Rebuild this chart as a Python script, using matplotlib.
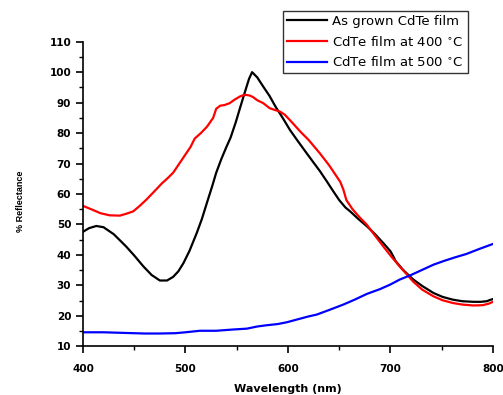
import matplotlib
matplotlib.use("Agg")
import matplotlib.pyplot as plt
from matplotlib.ticker import MultipleLocator

plt.rcParams['font.family'] = ['DejaVu Sans']
plt.rcParams['mathtext.fontset'] = 'dejavusans'

# As grown CdTe film
wl_grown = [400, 406, 413, 420, 430, 442, 450, 459, 467, 475, 482, 488, 493, 498, 504, 511,
            516, 521, 526, 530, 535, 540, 544, 549, 553, 558, 562, 565, 570, 576, 582, 588,
            595, 602, 610, 618, 625, 631, 638, 644, 650, 656, 661, 668, 677, 685, 693, 700,
            702, 705, 712, 722, 731, 742, 751, 761, 770, 781, 788, 794, 797, 800]
r_grown = [47.6, 48.8, 49.5, 49.1, 46.8, 42.8, 39.8, 36.2, 33.4, 31.6, 31.6, 32.8, 34.6, 37.3, 41.4, 47.2,
           51.8, 57.2, 62.5, 67.0, 71.5, 75.5, 78.5, 83.5, 88.0, 93.5, 97.8, 100.0, 98.3, 95.2, 92.2, 88.6,
           84.9, 81.0, 77.2, 73.5, 70.3, 67.6, 64.1, 61.0, 58.0, 55.6, 54.2, 52.0, 49.4, 46.8, 43.9, 41.2,
           40.0, 38.0, 35.2, 32.0, 29.8, 27.5, 26.2, 25.3, 24.8, 24.6, 24.6, 24.8, 25.2, 25.5]

# CdTe film annealed at 400 C
wl_400 = [400, 408, 417, 426, 436, 443, 449, 455, 462, 470, 477, 482, 488, 495, 500, 505,
          509, 515, 521, 527, 530, 534, 538, 543, 548, 553, 557, 560, 563, 566, 570, 576,
          582, 587, 592, 597, 604, 612, 620, 631, 640, 651, 654, 657, 663, 670, 677, 685,
          693, 701, 709, 716, 722, 731, 742, 751, 761, 770, 781, 790, 796, 800]
r_400 = [56.1, 55.0, 53.7, 53.0, 52.9, 53.6, 54.3, 56.0, 58.2, 61.0, 63.5, 65.0, 67.0, 70.5, 73.0, 75.5,
         78.2, 80.0, 82.1, 85.0, 88.0, 89.0, 89.2, 89.8, 91.0, 92.0, 92.5, 92.5, 92.3, 91.8, 90.8, 89.8,
         88.2, 87.6, 87.1, 86.0, 83.5, 80.5, 77.8, 73.4, 69.5, 64.0, 61.5, 58.0, 55.0, 52.3, 49.9, 46.3,
         42.8, 39.4, 36.2, 33.6, 31.3, 28.6, 26.4, 25.1, 24.2, 23.7, 23.4, 23.5, 24.0, 24.6]

# CdTe film annealed at 500 C
wl_500 = [400, 420, 440, 460, 475, 490, 500, 514, 530, 546, 560, 570, 579, 590, 599, 610,
          620, 628, 640, 654, 665, 677, 690, 700, 709, 720, 731, 742, 752, 763, 774, 787, 800]
r_500 = [14.6, 14.6, 14.4, 14.2, 14.2, 14.3, 14.6, 15.1, 15.1, 15.5, 15.8, 16.5, 16.9, 17.3, 17.9, 18.9,
         19.8, 20.4, 21.9, 23.7, 25.3, 27.2, 28.8, 30.3, 31.9, 33.4, 35.1, 36.8, 38.0, 39.2, 40.3, 42.0, 43.6]

fig = plt.figure(figsize=(5.03, 3.95), dpi=100)
ax = fig.add_axes([0.165, 0.1233, 0.815, 0.7711])

lw = 1.6
ax.plot(wl_grown, r_grown, color='black', lw=lw, label='As grown CdTe film')
ax.plot(wl_400, r_400, color='#ff0000', lw=lw, label='CdTe film at 400 $^{\\circ}$C')
ax.plot(wl_500, r_500, color='#0000ff', lw=lw, label='CdTe film at 500 $^{\\circ}$C')

ax.set_xlim(400, 800)
ax.set_ylim(10, 110)
ax.xaxis.set_major_locator(MultipleLocator(100))
ax.xaxis.set_minor_locator(MultipleLocator(50))
ax.yaxis.set_major_locator(MultipleLocator(10))
ax.yaxis.set_minor_locator(MultipleLocator(5))

for s in ['top', 'right']:
    ax.spines[s].set_visible(False)
for s in ['left', 'bottom']:
    ax.spines[s].set_linewidth(1.2)

ax.tick_params(which='major', direction='out', length=5, width=1.2, labelsize=7.5, pad=3.5)
ax.tick_params(which='minor', direction='out', length=3, width=1.0)
for lab in ax.get_xticklabels() + ax.get_yticklabels():
    lab.set_fontweight('bold')
ax.tick_params(axis='x', pad=8)

fig.text(288 / 503, 1 - 389 / 395, 'Wavelength (nm)', ha='center', va='center',
         fontsize=8, fontweight='bold')
fig.text(20.5 / 503, 1 - 201 / 395, '% Reflectance', ha='center', va='center',
         rotation=90, fontsize=6.5, fontweight='bold', family='Liberation Sans')

leg = fig.legend(loc='upper left', bbox_to_anchor=(283 / 503, 1 - 11 / 395),
                 fontsize=9.5, frameon=True, fancybox=False, edgecolor='black',
                 handlelength=3.0, handletextpad=0.45, labelspacing=0.5,
                 borderpad=0.3, borderaxespad=0)
leg.get_frame().set_linewidth(1.0)

fig.savefig('out.png', dpi=100)
